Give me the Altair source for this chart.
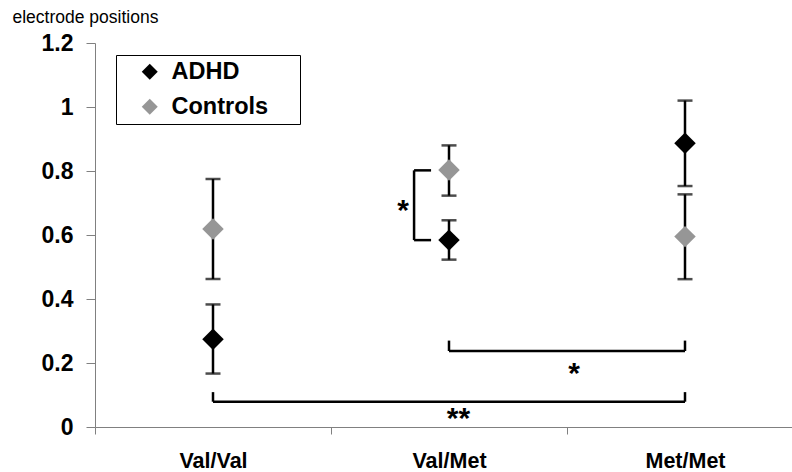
import altair as alt
import pandas as pd

# ---------------- data ----------------
genotypes = ["Val/Val", "Val/Met", "Met/Met"]
groups = ["ADHD", "Controls"]

adhd_mean = [0.274, 0.584, 0.887]
adhd_lo = [0.167, 0.523, 0.753]
adhd_hi = [0.383, 0.646, 1.020]

ctrl_mean = [0.619, 0.803, 0.595]
ctrl_lo = [0.4625, 0.723, 0.462]
ctrl_hi = [0.775, 0.880, 0.727]

y_ticks = [0, 0.2, 0.4, 0.6, 0.8, 1.0, 1.2]

# between-genotype significance brackets (bottom)
bracket_from = ["Val/Met", "Val/Val"]
bracket_to = ["Met/Met", "Met/Met"]
bracket_level = [0.2375, 0.079]
bracket_top = [0.27, 0.109]
bracket_label = ["*", "**"]
bracket_label_y = [0.178, 0.036]

# within-genotype bracket (Val/Met, ADHD vs Controls)
side_genotype = ["Val/Met"]
side_low = [0.584]
side_high = [0.802]
side_label = ["*"]
side_label_y = [0.686]

# ---------------- tables ----------------
df = pd.DataFrame({
    "genotype": genotypes * 2,
    "group": [groups[0]] * 3 + [groups[1]] * 3,
    "mean": adhd_mean + ctrl_mean,
    "lo": adhd_lo + ctrl_lo,
    "hi": adhd_hi + ctrl_hi,
})

bdf = pd.DataFrame({
    "genotype": bracket_from,
    "genotype2": bracket_to,
    "level": bracket_level,
    "top": bracket_top,
})
ends_df = pd.DataFrame({
    "genotype": bracket_from + bracket_to,
    "level": bracket_level + bracket_level,
    "top": bracket_top + bracket_top,
})
star1_df = pd.DataFrame({"genotype": [bracket_to[0]], "y": [bracket_label_y[0]], "t": [bracket_label[0]]})
star2_df = pd.DataFrame({"genotype": [genotypes[1]], "y": [bracket_label_y[1]], "t": [bracket_label[1]]})

side_df = pd.DataFrame({"genotype": side_genotype, "low": side_low, "high": side_high})
side_nub_df = pd.DataFrame({"genotype": side_genotype * 2, "y": side_low + side_high})
side_star_df = pd.DataFrame({"genotype": side_genotype, "y": side_label_y, "t": side_label})

# ---------------- styling ----------------
FONT = "Liberation Sans"
AXIS_GRAY = "#808080"
STAR_SIZE = 30

xscale = alt.Scale(type="band", domain=genotypes, range=[0, 708], paddingInner=0, paddingOuter=0)
yscale = alt.Scale(domain=[0, 1.2], nice=False, zero=True)

x_axis = alt.Axis(
    title=None, labelAngle=0, labelFont=FONT, labelFontSize=21.5, labelFontWeight="bold",
    labelColor="black", tickBand="extent", tickSize=7, labelPadding=16,
    domainColor=AXIS_GRAY, tickColor=AXIS_GRAY, grid=False,
)
y_axis = alt.Axis(
    title="electrode positions", values=y_ticks, format="~g",
    titleAngle=0, titleAlign="left", titleBaseline="alphabetic",
    titleX=-83, titleY=-21, titleFont=FONT, titleFontSize=17.5,
    titleFontWeight="normal", titleColor="black",
    labelFont=FONT, labelFontSize=23, labelFontWeight="bold", labelColor="black",
    tickSize=9, labelPadding=13, domainColor=AXIS_GRAY, tickColor=AXIS_GRAY, grid=False,
)


def X(bp=0.5):
    return alt.X("genotype:N", scale=xscale, axis=x_axis, bandPosition=bp)


def Y(field):
    return alt.Y(f"{field}:Q", scale=yscale, axis=y_axis)


base = alt.Chart(df)

err = base.mark_rule(color="black", strokeWidth=2.5).encode(x=X(), y=Y("lo"), y2="hi:Q")
cap_lo = base.mark_tick(color="black", size=15, thickness=2.5).encode(x=X(), y=Y("lo"))
cap_hi = base.mark_tick(color="black", size=15, thickness=2.5).encode(x=X(), y=Y("hi"))

points = base.mark_point(shape="diamond", filled=True, size=460, opacity=1).encode(
    x=X(), y=Y("mean"),
    color=alt.Color(
        "group:N",
        scale=alt.Scale(domain=groups, range=["#000000", "#969696"]),
        legend=alt.Legend(
            title=None, orient="none", legendX=21, legendY=12,
            strokeColor="black", padding=5, symbolType="diamond", symbolSize=256,
            symbolOffset=17, labelOffset=10, labelFont=FONT, labelFontSize=23.5,
            labelFontWeight="bold", labelColor="black", rowPadding=10,
            labelExpr="datum.label + '    \u200b'", symbolStrokeWidth=0,
        ),
    ),
)

br_h = alt.Chart(bdf).mark_rule(color="black", strokeWidth=2.5).encode(
    x=X(), x2="genotype2:N", y=Y("level"))
br_v = alt.Chart(ends_df).mark_rule(color="black", strokeWidth=2.5).encode(
    x=X(), y=Y("level"), y2="top:Q")
star1 = alt.Chart(star1_df).mark_text(font=FONT, fontSize=STAR_SIZE, fontWeight="bold", color="black", dy=4).encode(
    x=X(0.03), y=Y("y"), text="t:N")
star2 = alt.Chart(star2_df).mark_text(font=FONT, fontSize=STAR_SIZE, fontWeight="bold", color="black", dy=4).encode(
    x=X(0.54), y=Y("y"), text="t:N")

side_v = alt.Chart(side_df).mark_rule(color="black", strokeWidth=2.5).encode(
    x=X(0.352), y=Y("low"), y2="high:Q")
side_nub = alt.Chart(side_nub_df).mark_rule(color="black", strokeWidth=2.5).encode(
    x=X(0.352), x2=alt.X2("genotype:N", bandPosition=0.424), y=Y("y"))
side_star = alt.Chart(side_star_df).mark_text(font=FONT, fontSize=STAR_SIZE, fontWeight="bold", color="black", dy=4).encode(
    x=X(0.305), y=Y("y"), text="t:N")

chart = alt.layer(
    err, cap_lo, cap_hi, br_h, br_v, side_v, side_nub, star1, star2, side_star, points
).properties(
    width=697, height=384,
    autosize=alt.AutoSizeParams(type="none"),
    padding={"left": 95, "top": 43, "right": 0, "bottom": 45},
    background="white",
).configure_view(stroke=None)

chart.save("out.html", embed_options={"renderer": "svg", "actions": False})
